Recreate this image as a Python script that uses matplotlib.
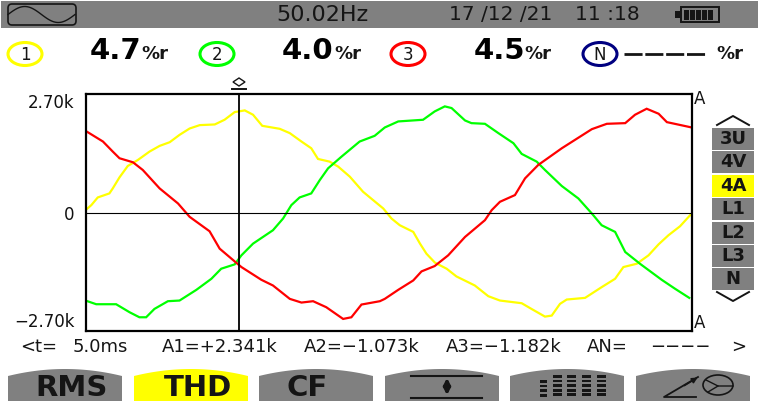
import numpy as np
import matplotlib
matplotlib.use("Agg")
import matplotlib.pyplot as plt
from matplotlib.patches import Ellipse, FancyBboxPatch, Polygon, Rectangle

W, H = 758, 401
GREY = "#808080"
YELLOW = "#ffff00"
GREEN = "#00ff00"
RED = "#ff0000"

# waveforms, time in ms, current in A
t1 = [0, .19, .40, .78, .89, 1.11, 1.38, 1.71, 2.09, 2.42, 2.75, 3.07, 3.40, 3.73, 4.22, 4.54, 4.87, 5.20, 5.47, 5.77,
      6.34, 6.67, 7.05, 7.37, 7.59, 7.97, 8.25, 8.63, 9.06, 9.39, 9.72, 9.99, 10.26, 10.70, 10.92, 11.13, 11.41, 11.79,
      12.11, 12.71, 13.15, 13.53, 14.24, 14.56, 15.00, 15.22, 15.49, 15.71, 16.31, 16.85, 17.29, 17.56, 18.00, 18.38,
      18.71, 19.03, 19.41, 19.74]
a1 = [53, 168, 343, 435, 549, 801, 1060, 1197, 1388, 1518, 1602, 1769, 1914, 1991, 2006, 2113, 2288, 2326, 2227, 1975,
      1907, 1808, 1617, 1464, 1220, 1159, 1045, 816, 473, 282, 92, -137, -290, -442, -709, -938, -1144, -1281,
      -1457, -1663, -1907, -2006, -2067, -2197, -2372, -2349, -2082, -1983, -1945, -1701, -1510, -1243, -1167, -976,
      -725, -519, -313, -61]
t2 = [0, .35, 1.00, 1.44, 1.76, 1.98, 2.25, 2.69, 3.07, 3.62, 4.11, 4.43, 4.87, 5.09, 5.47, 6.12, 6.45, 6.72, 6.99,
      7.37, 7.65, 7.92, 8.36, 8.95, 9.44, 9.77, 10.21, 11.02, 11.40, 11.73, 11.95, 12.39, 12.60, 13.04, 13.48, 13.97,
      14.24, 14.73, 15.00, 15.55, 16.09, 16.53, 16.85, 17.29, 17.62, 18.10, 18.81, 19.25, 19.71]
a2 = [-2006, -2090, -2090, -2273, -2387, -2387, -2197, -2021, -2006, -1762, -1510, -1281, -1182, -976, -709, -404, -137,
      168, 343, 435, 740, 1007, 1274, 1617, 1747, 1937, 2075, 2113, 2303, 2418, 2380, 2097, 2036, 2021, 1808, 1579,
      1335, 1159, 969, 603, 320, -23, -290, -442, -900, -1167, -1533, -1739, -1945]
t3 = [0, .57, .89, 1.11, 1.55, 1.87, 2.42, 3.02, 3.40, 4.05, 4.38, 4.92, 5.09, 5.74, 6.12, 6.67, 7.05, 7.43, 7.86, 8.41,
      8.68, 9.01, 9.61, 9.77, 10.21, 10.70, 10.97, 11.40, 11.84, 12.39, 13.04, 13.26, 13.53, 14.02, 14.35, 14.78, 15.55,
      16.53, 17.02, 17.62, 17.94, 18.32, 18.71, 18.98, 19.74]
a3 = [1861, 1617, 1388, 1236, 1144, 969, 549, 206, -99, -427, -824, -1144, -1243, -1533, -1663, -1968, -2052, -2021,
      -2158, -2425, -2387, -2097, -2021, -1968, -1762, -1548, -1342, -1220, -976, -557, -175, 53, 244, 397, 778, 1083,
      1464, 1899, 2021, 2036, 2227, 2364, 2250, 2059, 1945]

y_ticks = [2700, 0, -2700]
y_labels = ["2.70k", "0", "\u22122.70k"]
cursor_t = 5.0
t_span = 19.8

# readouts
channels = ["1", "2", "3", "N"]
thd = ["4.7", "4.0", "4.5"]
side_labels = ["3U", "4V", "4A", "L1", "L2", "L3", "N"]
softkeys = ["RMS", "THD", "CF"]

fig = plt.figure(figsize=(W / 100, H / 100), dpi=100)
plt.rcParams["font.family"] = ["DejaVu Sans"]

# -----------------------
# Scope area
# -----------------------
ax = fig.add_axes([85.5 / W, 1 - 331 / H, (692 - 85.5) / W, (331 - 94) / H])
ax.plot(t1, a1, color=YELLOW, lw=1.6, solid_joinstyle="miter")
ax.plot(t2, a2, color=GREEN, lw=1.6, solid_joinstyle="miter")
ax.plot(t3, a3, color=RED, lw=1.6, solid_joinstyle="miter")
ax.axhline(0, color="black", lw=0.8)
ax.axvline(cursor_t, color="black", lw=1.3)
ax.set_xlim(0, t_span)
ax.set_ylim(-2700, 2700)
ax.set_xticks([])
ax.set_yticks(y_ticks)
ax.set_yticklabels(y_labels, fontsize=12, color="#111111")
ax.tick_params(axis="y", length=0, pad=8)
tick_text = ax.get_yticklabels()
tick_text[0].set_va("top")
tick_text[2].set_va("bottom")
for s in ax.spines.values():
    s.set_linewidth(1.6)

# -----------------------
# Everything around it, in screen pixels
# -----------------------
ov = fig.add_axes([0, 0, 1, 1], zorder=5)
ov.set_xlim(0, W)
ov.set_ylim(H, 0)
ov.axis("off")
ov.patch.set_alpha(0)

DARK = "#151515"


def label(x, y, s, size=10.5, ha="left", weight="normal", color=DARK):
    ov.text(x, y, s, fontsize=size, ha=ha, va="center", fontweight=weight, color=color)


# status bar
ov.add_patch(Rectangle((1, 1), W - 1, 27, color=GREY, lw=0))
ov.add_patch(FancyBboxPatch((10, 6), 64, 17, boxstyle="round,pad=2,rounding_size=4", fc="none", ec=DARK, lw=1.2))
wave_x = np.linspace(8, 75, 60)
ov.plot(wave_x, 14.5 - 8 * np.sin((wave_x - 8) / 67 * 2 * np.pi), color=DARK, lw=1)
label(276, 15, "50.02Hz", 16)
label(449, 15, "17 /12 /21", 14.5)
label(575, 15, "11 :18", 14.5)
ov.add_patch(Rectangle((681, 7), 38, 15, fc="none", ec=DARK, lw=1.4))
ov.add_patch(Rectangle((675, 11), 5, 7, color=DARK, lw=0))
for bx in [684, 690, 696, 702, 708]:
    ov.add_patch(Rectangle((bx, 9.5), 5, 10, color=DARK, lw=0))

# channel readouts
centres = [25, 217, 408, 600]
ring = [YELLOW, GREEN, RED, "#000080"]
for cx, name, col in zip(centres, channels, ring):
    ov.add_patch(Ellipse((cx, 54), 34, 23, fc="white", ec=col, lw=2.2))
    ov.text(cx, 54.5, name, fontsize=12, ha="center", va="center", color=DARK)
for x, val in zip([90, 282, 474], thd):
    label(x, 51, val, 21, weight="bold", color="black")
for x in [141, 334, 524, 716]:
    label(x, 54, "%r", 13, weight="bold")
ov.plot([624, 706], [54, 54], color=DARK, lw=2, dashes=(6.5, 1))

# cursor marker
ov.add_patch(Polygon([(233, 82), (239, 78), (245, 82), (239, 86)], fc="none", ec=DARK, lw=1))
ov.plot([232, 246], [88.5, 88.5], color=DARK, lw=1.4)
label(694, 99, "A", 12)
label(694, 323, "A", 12)

# side keys
side_tops = [128, 151, 175, 198, 222, 245, 268]
for top, name in zip(side_tops, side_labels):
    on = name == "4A"
    ov.add_patch(Rectangle((712, top), 42, 22, color=YELLOW if on else GREY, lw=0))
    ov.text(733, top + 11, name, fontsize=13, fontweight="bold", ha="center", va="center", color=DARK)
ov.plot([717, 733, 749], [125, 116, 125], color=DARK, lw=1.4)
ov.plot([717, 733, 749], [292, 301, 292], color=DARK, lw=1.4)

# cursor readout
for x, s in [(20, "<t="), (73, "5.0ms"), (162, "A1=+2.341k"), (304, "A2=\u22121.073k"), (446, "A3=\u22121.182k"),
             (587, "AN="), (650, "\u2212\u2212\u2212\u2212"), (731, ">")]:
    label(x, 347, s, 13)

# soft keys
key_lefts = [8, 134, 259, 385, 510, 636]
for i, left in enumerate(key_lefts):
    xs = np.linspace(left, left + 114, 40)
    tops = 369 + 7 * ((xs - left - 57) / 57) ** 2
    verts = list(zip(xs, tops)) + [(left + 114, H), (left, H)]
    ov.add_patch(Polygon(verts, color=YELLOW if i == 1 else GREY, lw=0))
for x, name in zip([72, 198, 307], softkeys):
    ov.text(x, 388, name, fontsize=21, fontweight="bold", ha="center", va="center", color=DARK)

# icon on key 4
ov.plot([411, 482], [375.5, 375.5], color=DARK, lw=1.5)
ov.plot([411, 482], [397.5, 397.5], color=DARK, lw=1.5)
ov.annotate("", xy=(447, 375), xytext=(447, 398), arrowprops=dict(arrowstyle="<|-|>", color=DARK, lw=2.5, mutation_scale=9))

# icon on key 5
for k, bx in enumerate([540, 553, 567, 582, 597]):
    start = 380 if k == 0 else 375
    for by in np.arange(start, 398, 4.6):
        ov.add_patch(Rectangle((bx, by), 7 if k == 0 else 9, 2.8, color=DARK, lw=0))

# icon on key 6
ov.plot([698, 664, 696], [377, 397, 397], color=DARK, lw=1.3)
ov.annotate("", xy=(700, 376), xytext=(682, 387), arrowprops=dict(arrowstyle="-|>", color=DARK, lw=1.2, mutation_scale=8))
ov.add_patch(Ellipse((718, 385), 30, 20, fc="none", ec=DARK, lw=1.2))
ov.plot([706, 718, 733], [380, 386, 386], color=DARK, lw=1)
ov.plot([718, 708], [386, 392], color=DARK, lw=1)

fig.savefig("out.png", dpi=100)
